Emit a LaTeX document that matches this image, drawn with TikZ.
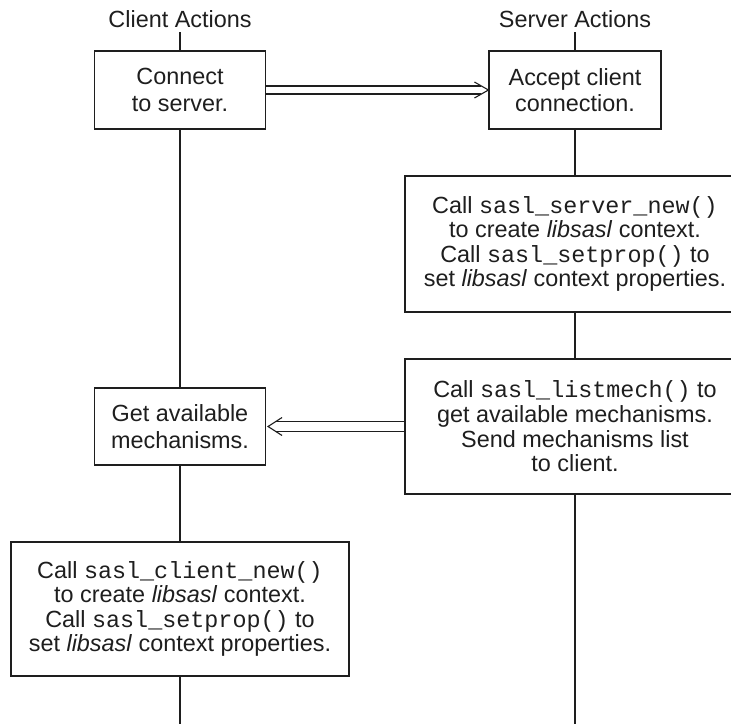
\documentclass[tikz,border=0pt]{standalone}
\usepackage{fontspec}
\setmainfont{Liberation Sans}
\setmonofont{Liberation Mono}
\newcommand{\fsz}{\fontsize{23.4}{24.6}\selectfont}
\newcommand{\fszwide}{\fontsize{23.4}{26.5}\selectfont}
\definecolor{ink}{HTML}{1E1E1E}
\begin{document}
\begin{tikzpicture}[x=1pt,y=1pt,
  lifeline/.style={line width=1.1pt, draw=ink},
  actbox/.style={draw=ink, text=ink, line width=1.1pt, align=center, inner sep=0pt, font=\fsz},
  shortbox/.style={actbox, font=\fszwide},
  title/.style={anchor=base, inner sep=0pt, text=ink, font=\fsz},
  msg/.style={line width=1.1pt, draw=ink}]
\useasboundingbox (0,0) rectangle (731,-723);
% titles
\node[title] (ctitle) at (180,-27) {Client Actions};
\node[title] (stitle) at (575,-27) {Server Actions};
% boxes
\node[shortbox, minimum width=171, minimum height=78] (connect) at (180,-90) {Connect\\to server.};
\node[shortbox, minimum width=172, minimum height=78] (accept) at (575,-90) {Accept client\\connection.};
\node[actbox, minimum width=340, minimum height=136] (servernew) at (575,-244)
  {Call \texttt{sasl\_server\_new()}\\to create \textit{libsasl} context.\\Call \texttt{sasl\_setprop()} to\\set \textit{libsasl} context properties.};
\node[actbox, minimum width=340, minimum height=135] (listmech) at (575,-426.5)
  {Call \texttt{sasl\_listmech()} to\\get available mechanisms.\\Send mechanisms list\\to client.};
\node[shortbox, minimum width=171, minimum height=77] (getm) at (180,-426.5) {Get available\\mechanisms.};
\node[actbox, minimum width=338, minimum height=134] (clientnew) at (180,-609)
  {Call \texttt{sasl\_client\_new()}\\to create \textit{libsasl} context.\\Call \texttt{sasl\_setprop()} to\\set \textit{libsasl} context properties.};
\coordinate (cend) at (180,-724);
\coordinate (send) at (575,-724);
% lifelines
\draw[lifeline] (connect.north) -- ++(0,18);
\draw[lifeline] (connect.south) -- (getm.north);
\draw[lifeline] (getm.south) -- (clientnew.north);
\draw[lifeline] (clientnew.south) -- (cend);
\draw[lifeline] (accept.north) -- ++(0,18);
\draw[lifeline] (accept.south) -- (servernew.north);
\draw[lifeline] (servernew.south) -- (listmech.north);
\draw[lifeline] (listmech.south) -- (send);
% message 1: connect -> accept
\draw[msg] ([yshift=4pt]connect.east) -- ([xshift=-7pt,yshift=4pt]accept.west);
\draw[msg] ([yshift=-4pt]connect.east) -- ([xshift=-7pt,yshift=-4pt]accept.west);
\draw[msg] ([xshift=-14pt,yshift=8pt]accept.west) -- (accept.west) -- ([xshift=-14pt,yshift=-8pt]accept.west);
% message 2: listmech -> getm
\draw[msg] ([yshift=5pt]listmech.west) -- ([xshift=9pt,yshift=5pt]getm.east);
\draw[msg] ([yshift=-5pt]listmech.west) -- ([xshift=9pt,yshift=-5pt]getm.east);
\draw[msg] ([xshift=16pt,yshift=9pt]getm.east) -- ([xshift=2pt]getm.east) -- ([xshift=16pt,yshift=-9pt]getm.east);
\end{tikzpicture}
\end{document}
